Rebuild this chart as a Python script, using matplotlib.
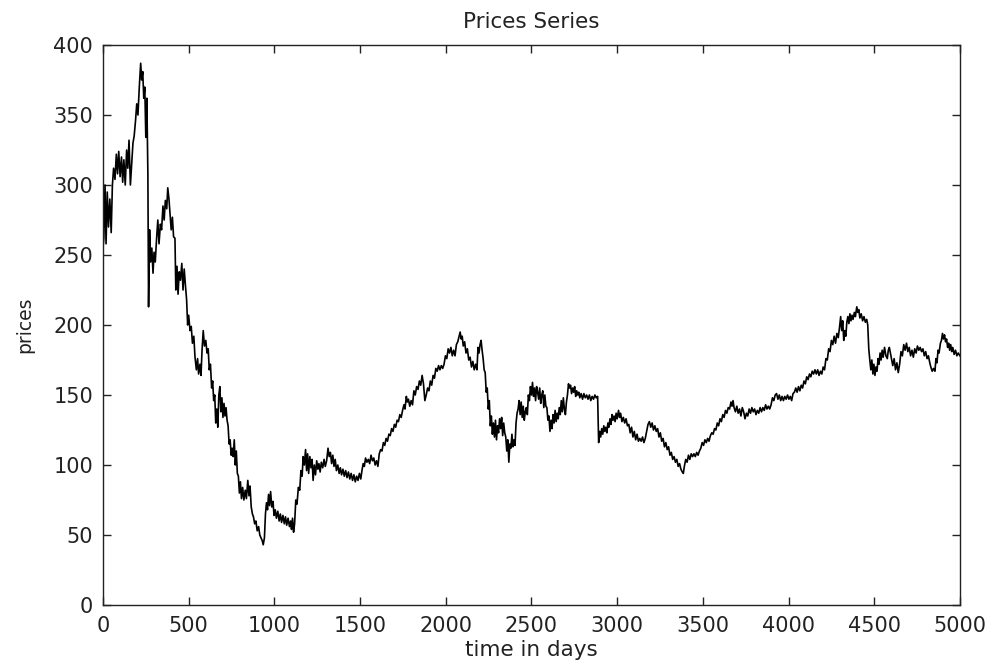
import matplotlib
matplotlib.use("Agg")
import matplotlib.pyplot as plt

plt.rcParams['font.family'] = ['DejaVu Sans']

# Daily price path (day index, price)
days = [
    0, 5, 12, 18, 25, 32, 40, 48, 55, 62, 70, 78, 85, 92, 100, 108, 115, 122, 130, 138,
    145, 152, 160, 168, 175, 182, 190, 197, 204, 212, 220, 226, 232, 238, 244, 250, 256, 262, 266, 272,
    278, 285, 292, 298, 305, 313, 320, 327, 335, 342, 350, 357, 364, 372, 378, 385, 391, 398, 405, 412,
    420, 425, 432, 438, 445, 452, 460, 467, 474, 480, 488, 494, 500, 508, 515, 522, 530, 537, 545, 552,
    558, 566, 572, 578, 585, 592, 600, 607, 614, 620, 627, 634, 640, 646, 652, 658, 664, 670, 676, 682,
    688, 694, 700, 706, 712, 718, 724, 730, 736, 742, 748, 754, 760, 766, 772, 778, 784, 790, 796, 802,
    808, 815, 822, 830, 837, 845, 852, 858, 865, 872, 878, 885, 892, 900, 908, 915, 922, 929, 935, 942,
    948, 954, 960, 966, 972, 978, 985, 992, 998, 1005, 1012, 1020, 1028, 1035, 1042, 1050, 1058, 1065, 1072, 1080,
    1088, 1095, 1100, 1106, 1112, 1118, 1125, 1132, 1140, 1148, 1155, 1162, 1168, 1175, 1182, 1188, 1194, 1200, 1207, 1214,
    1220, 1226, 1233, 1240, 1247, 1254, 1260, 1267, 1274, 1282, 1290, 1297, 1305, 1313, 1320, 1327, 1334, 1341, 1348, 1355,
    1362, 1370, 1378, 1385, 1392, 1400, 1408, 1416, 1424, 1432, 1440, 1448, 1456, 1464, 1472, 1480, 1488, 1496, 1504, 1511,
    1518, 1525, 1532, 1540, 1548, 1556, 1564, 1572, 1580, 1588, 1596, 1604, 1612, 1620, 1628, 1636, 1644, 1652, 1660, 1668,
    1676, 1684, 1692, 1700, 1708, 1716, 1724, 1732, 1740, 1748, 1756, 1762, 1770, 1776, 1782, 1790, 1798, 1806, 1814, 1822,
    1830, 1838, 1846, 1854, 1862, 1870, 1878, 1886, 1894, 1902, 1910, 1918, 1926, 1934, 1942, 1950, 1958, 1966, 1974, 1982,
    1990, 1998, 2006, 2014, 2022, 2030, 2038, 2046, 2054, 2062, 2070, 2078, 2084, 2090, 2096, 2102, 2110, 2118, 2126, 2134,
    2142, 2150, 2158, 2166, 2174, 2182, 2188, 2194, 2200, 2206, 2212, 2218, 2224, 2230, 2236, 2242, 2248, 2254, 2260, 2266,
    2272, 2278, 2284, 2290, 2296, 2302, 2308, 2314, 2320, 2326, 2332, 2338, 2344, 2350, 2356, 2362, 2368, 2374, 2380, 2386,
    2392, 2398, 2404, 2410, 2416, 2422, 2428, 2434, 2440, 2446, 2452, 2458, 2464, 2470, 2476, 2482, 2488, 2494, 2500, 2506,
    2512, 2518, 2524, 2530, 2536, 2542, 2548, 2554, 2560, 2566, 2572, 2578, 2584, 2590, 2596, 2602, 2608, 2614, 2620, 2626,
    2632, 2638, 2644, 2650, 2656, 2662, 2668, 2674, 2680, 2686, 2692, 2698, 2704, 2710, 2716, 2722, 2728, 2734, 2740, 2746,
    2752, 2758, 2764, 2770, 2776, 2782, 2790, 2798, 2806, 2814, 2822, 2830, 2838, 2846, 2854, 2862, 2870, 2878, 2886, 2892,
    2898, 2904, 2910, 2916, 2922, 2928, 2934, 2940, 2946, 2952, 2958, 2964, 2970, 2976, 2982, 2988, 2994, 3000, 3008, 3014,
    3020, 3028, 3036, 3044, 3052, 3060, 3068, 3076, 3084, 3092, 3100, 3108, 3116, 3124, 3132, 3140, 3148, 3156, 3164, 3172,
    3180, 3188, 3196, 3204, 3212, 3220, 3228, 3236, 3244, 3252, 3260, 3268, 3276, 3284, 3292, 3300, 3308, 3316, 3324, 3332,
    3340, 3348, 3356, 3364, 3372, 3380, 3386, 3392, 3400, 3408, 3416, 3424, 3432, 3440, 3448, 3456, 3464, 3472, 3480, 3488,
    3496, 3504, 3512, 3520, 3528, 3536, 3544, 3552, 3560, 3568, 3576, 3584, 3592, 3600, 3608, 3616, 3624, 3632, 3640, 3648,
    3656, 3664, 3670, 3676, 3682, 3690, 3698, 3706, 3714, 3722, 3730, 3738, 3746, 3754, 3762, 3770, 3778, 3786, 3794, 3802,
    3810, 3818, 3826, 3834, 3842, 3850, 3858, 3866, 3874, 3882, 3890, 3898, 3906, 3914, 3922, 3930, 3938, 3946, 3954, 3962,
    3970, 3978, 3986, 3994, 4002, 4010, 4018, 4026, 4034, 4042, 4050, 4058, 4066, 4074, 4082, 4090, 4098, 4106, 4114, 4122,
    4130, 4138, 4146, 4154, 4162, 4170, 4178, 4186, 4194, 4202, 4210, 4218, 4226, 4234, 4242, 4250, 4258, 4266, 4274, 4282,
    4290, 4298, 4304, 4310, 4316, 4322, 4328, 4334, 4340, 4346, 4352, 4358, 4364, 4370, 4376, 4384, 4390, 4398, 4404, 4410,
    4416, 4424, 4432, 4440, 4448, 4456, 4462, 4468, 4474, 4480, 4486, 4492, 4498, 4504, 4510, 4516, 4522, 4528, 4534, 4540,
    4546, 4552, 4560, 4568, 4576, 4582, 4588, 4594, 4600, 4608, 4616, 4624, 4632, 4640, 4648, 4656, 4664, 4672, 4680, 4688,
    4696, 4704, 4712, 4720, 4728, 4736, 4744, 4752, 4760, 4768, 4776, 4784, 4792, 4800, 4808, 4816, 4824, 4830, 4838, 4846,
    4854, 4860, 4866, 4872, 4878, 4886, 4892, 4898, 4904, 4910, 4916, 4922, 4928, 4934, 4940, 4946, 4952, 4958, 4966, 4974,
    4982, 4990, 5000,
]

prices = [
    255, 262, 300, 258, 295, 270, 290, 266, 300, 312, 304, 322, 308, 324, 306, 320, 302, 318, 300, 325,
    312, 332, 300, 316, 330, 335, 346, 358, 350, 370, 387, 375, 381, 362, 370, 334, 362, 308, 213, 268,
    245, 255, 237, 252, 245, 262, 275, 258, 272, 268, 285, 275, 289, 283, 298, 290, 280, 268, 277, 263,
    262, 225, 242, 222, 238, 232, 244, 225, 240, 230, 218, 200, 207, 196, 199, 187, 192, 177, 168, 176,
    165, 172, 164, 182, 196, 185, 189, 180, 183, 168, 172, 155, 160, 146, 150, 130, 140, 127, 150, 156,
    138, 148, 134, 144, 135, 141, 132, 128, 115, 118, 107, 112, 106, 118, 100, 110, 94, 92, 80, 88,
    76, 84, 75, 82, 76, 89, 78, 85, 70, 65, 63, 58, 60, 53, 56, 50, 48, 46, 43, 48,
    65, 73, 68, 79, 71, 81, 70, 74, 64, 68, 62, 67, 60, 65, 59, 64, 58, 63, 57, 62,
    56, 60, 54, 62, 52, 58, 75, 72, 84, 82, 96, 92, 106, 100, 111, 96, 108, 94, 106, 98,
    104, 89, 100, 93, 103, 97, 101, 95, 102, 98, 104, 99, 103, 112, 106, 109, 101, 107, 99, 104,
    96, 100, 94, 98, 93, 97, 92, 96, 91, 95, 90, 94, 89, 93, 88, 92, 89, 94, 90, 96,
    101, 99, 105, 102, 104, 101, 107, 103, 105, 100, 103, 99, 108, 111, 110, 116, 114, 119, 117, 122,
    121, 126, 124, 129, 127, 132, 131, 136, 134, 139, 143, 140, 149, 145, 147, 142, 146, 143, 153, 150,
    156, 154, 160, 157, 164, 158, 146, 150, 155, 153, 160, 157, 164, 162, 169, 167, 171, 168, 171, 169,
    172, 178, 176, 183, 180, 184, 178, 182, 178, 186, 188, 192, 195, 190, 192, 185, 188, 180, 183, 175,
    177, 170, 174, 168, 172, 168, 184, 180, 186, 189, 182, 176, 168, 166, 152, 155, 140, 146, 128, 135,
    122, 130, 120, 132, 118, 128, 123, 133, 126, 134, 121, 130, 123, 120, 110, 118, 102, 115, 112, 122,
    113, 118, 114, 130, 137, 140, 146, 136, 145, 134, 142, 132, 138, 141, 136, 150, 146, 156, 150, 159,
    149, 155, 146, 156, 152, 147, 155, 144, 150, 153, 141, 150, 142, 141, 132, 135, 124, 132, 126, 136,
    130, 139, 131, 137, 133, 141, 136, 146, 138, 148, 140, 136, 145, 150, 158, 155, 157, 151, 155, 152,
    156, 149, 153, 150, 152, 148, 151, 147, 151, 148, 150, 147, 150, 146, 149, 147, 150, 148, 149, 116,
    124, 120, 126, 122, 128, 124, 127, 123, 130, 127, 133, 129, 136, 132, 135, 131, 137, 133, 139, 134,
    137, 131, 134, 130, 133, 128, 129, 123, 127, 120, 124, 118, 122, 117, 119, 117, 120, 116, 119, 124,
    129, 131, 127, 130, 125, 128, 124, 126, 120, 123, 117, 119, 113, 116, 111, 113, 107, 109, 104, 106,
    102, 104, 99, 101, 97, 95, 94, 99, 104, 102, 107, 104, 108, 106, 108, 106, 109, 107, 110, 112,
    116, 114, 118, 116, 119, 117, 121, 123, 122, 126, 125, 130, 128, 133, 131, 136, 134, 139, 137, 141,
    140, 145, 142, 146, 141, 138, 142, 137, 140, 135, 141, 138, 133, 137, 135, 140, 137, 141, 138, 140,
    136, 139, 137, 141, 138, 141, 139, 143, 140, 142, 140, 143, 148, 146, 150, 151, 147, 150, 146, 149,
    146, 149, 147, 150, 147, 149, 146, 151, 152, 155, 152, 156, 153, 157, 155, 160, 158, 163, 161, 165,
    163, 167, 165, 168, 165, 168, 164, 167, 165, 170, 168, 176, 175, 183, 181, 189, 186, 192, 187, 194,
    191, 199, 206, 196, 203, 189, 196, 192, 202, 206, 201, 208, 203, 207, 204, 209, 206, 213, 209, 211,
    205, 208, 203, 206, 202, 204, 200, 183, 175, 168, 175, 165, 172, 164, 170, 167, 176, 172, 180, 175,
    182, 177, 184, 178, 176, 182, 184, 180, 176, 171, 176, 168, 173, 166, 172, 181, 178, 186, 182, 187,
    181, 184, 178, 182, 177, 183, 180, 185, 182, 184, 181, 183, 178, 181, 176, 178, 173, 170, 167, 169,
    167, 176, 173, 182, 180, 187, 189, 194, 190, 193, 188, 190, 184, 187, 182, 186, 181, 184, 179, 182,
    178, 180, 178,
]

x_ticks = [0, 500, 1000, 1500, 2000, 2500, 3000, 3500, 4000, 4500, 5000]
y_ticks = [0, 50, 100, 150, 200, 250, 300, 350, 400]

fig = plt.figure(figsize=(9.92, 6.66), dpi=100)
ax = fig.add_axes([0.1038, 0.0916, 0.8639, 0.8408])

ax.plot(days, prices, color='black', linewidth=1.2)

ax.set_xlim(0, 5000)
ax.set_ylim(0, 400)
ax.set_xticks(x_ticks)
ax.set_yticks(y_ticks)
ax.tick_params(direction='in', length=6, width=1, top=True, right=True,
               labelsize=15, colors='#222222')
ax.tick_params(axis='x', pad=8)
ax.tick_params(axis='y', pad=7)
for spine in ax.spines.values():
    spine.set_linewidth(1.0)
    spine.set_color('#222222')

ax.set_title('Prices Series', fontsize=15.5, pad=12, color='#222222')
ax.set_xlabel('time in days', fontsize=15.5, labelpad=3, color='#222222')
ax.set_ylabel('prices', fontsize=13.5, labelpad=14, color='#222222')

fig.savefig('out.png', dpi=100)
